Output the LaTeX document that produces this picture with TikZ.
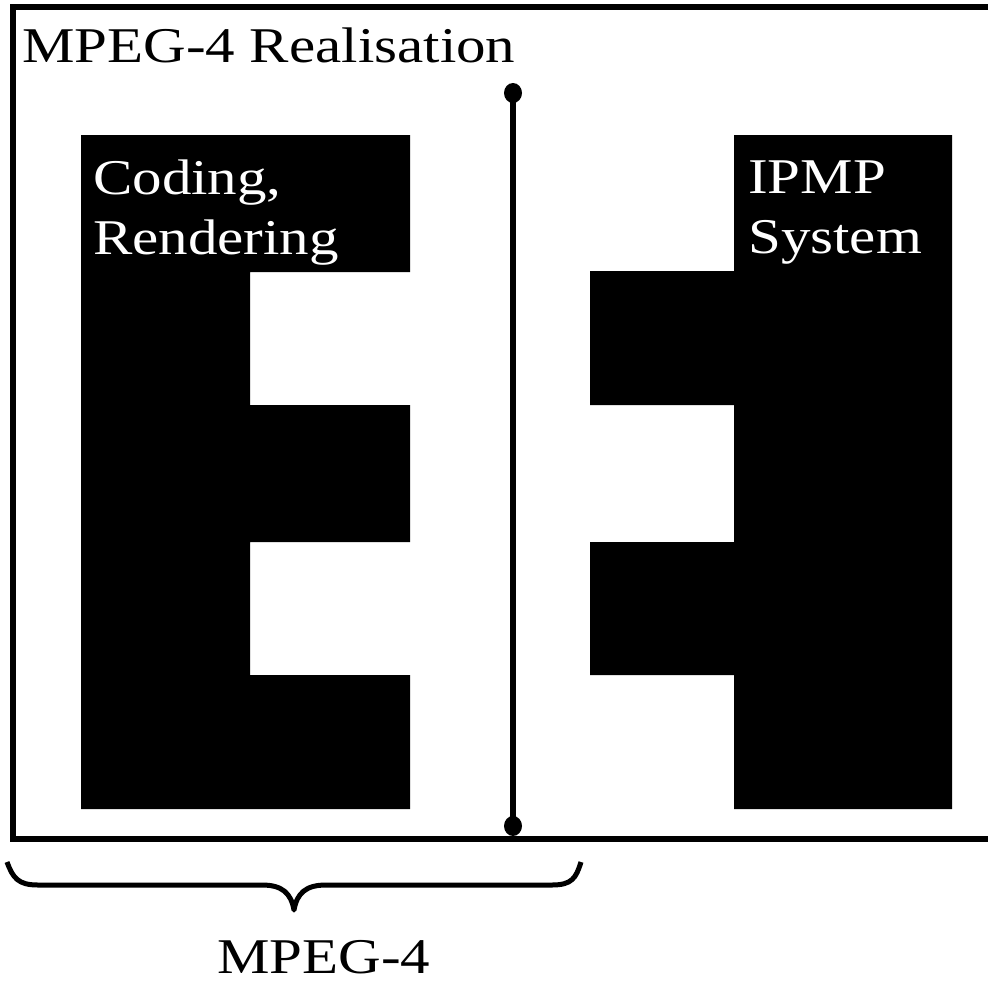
\documentclass[tikz,border=0pt]{standalone}
\usepackage{fontspec}
\setmainfont{Liberation Serif}[FakeStretch=1.18]
\begin{document}
\begin{tikzpicture}[x=1pt,y=-1pt,
  frameline/.style={line width=6pt,line join=miter},
  block/.style={fill=black,draw=none},
  label/.style={anchor=base west,inner sep=0pt,font=\fontsize{50}{60}\selectfont},
  inlabel/.style={label,text=white,align=left},
  bracepath/.style={line width=5pt,line cap=butt,line join=round}]
\useasboundingbox (0,0) rectangle (988,983);

% outer frame, open on the right
\draw[frameline] (988,7) -- (13,7) -- (13,839) -- (988,839);

% left block: coding / rendering
\fill[block] (81,135) -- (410,135) -- (410,272) -- (250,272) -- (250,405)
  -- (410,405) -- (410,542) -- (250,542) -- (250,675) -- (410,675)
  -- (410,809) -- (81,809) -- cycle;

% right block: IPMP system
\fill[block] (734,135) -- (952,135) -- (952,809) -- (734,809) -- (734,675)
  -- (590,675) -- (590,542) -- (734,542) -- (734,405) -- (590,405)
  -- (590,271) -- (734,271) -- cycle;

% separating interface line with end dots
\coordinate (sepTop) at (513,93);
\coordinate (sepBot) at (513,826);
\draw[line width=6pt] (sepTop) -- (sepBot);
\fill (sepTop) ellipse [x radius=9, y radius=10];
\fill (sepBot) ellipse [x radius=9, y radius=10];

% labels
\node[label] (title) at (22,62) {MPEG-4 Realisation};
\node[inlabel] (coding) at (93,194) {Coding,};
\node[inlabel] (rendering) at (93,254) {Rendering};
\node[inlabel] (ipmp) at (748,193) {IPMP};
\node[inlabel] (system) at (748,253) {System};

% brace under the MPEG-4 part
\draw[bracepath] (7,862) .. controls (13,878) and (18,885) .. (38,885)
  -- (262,885) .. controls (282,885) and (291,893) .. (294,910)
  .. controls (297,893) and (306,885) .. (326,885)
  -- (552,885) .. controls (572,885) and (576,878) .. (581,862);
\node[label,text depth=0pt] (mpeg) at (217,973) {MPEG-4};
\end{tikzpicture}
\end{document}
